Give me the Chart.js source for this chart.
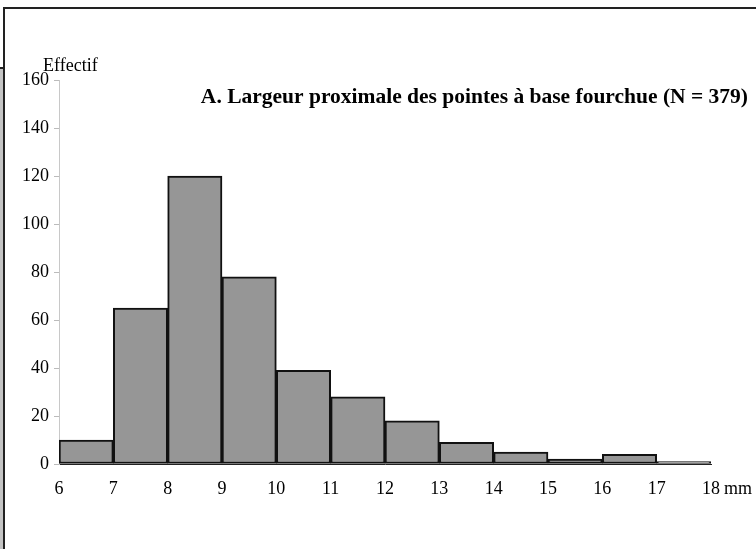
<!DOCTYPE html>
<html>
<head>
<meta charset="utf-8">
<script src="https://cdn.jsdelivr.net/npm/chart.js@4.4.1/dist/chart.umd.min.js"></script>
<style>
html,body{margin:0;padding:0;background:#fff;}
#wrap{position:relative;width:756px;height:549px;}
</style>
</head>
<body>
<div id="wrap"><canvas id="c" width="756" height="549"></canvas></div>
<script>
const binStarts = [6, 7, 8, 9, 10, 11, 12, 13, 14, 15, 16, 17];
const counts = [10, 65, 120, 78, 39, 28, 18, 9, 5, 2, 4, 1];
const xTicks = [6, 7, 8, 9, 10, 11, 12, 13, 14, 15, 16, 17, 18];
const yTicks = [0, 20, 40, 60, 80, 100, 120, 140, 160];
const titleText = 'A. Largeur proximale des pointes à base fourchue (N = 379)';
const yLabel = 'Effectif';
const xUnit = 'mm';

const SERIF = '"Liberation Serif", "Times New Roman", serif';

const framePlugin = {
  id: 'frame',
  beforeDraw(chart) {
    const ctx = chart.ctx;
    ctx.save();
    ctx.fillStyle = '#c4c4c4';
    ctx.fillRect(0, 68, 3, 549 - 68);
    ctx.strokeStyle = '#222';
    ctx.lineWidth = 2;
    ctx.beginPath();
    ctx.moveTo(0, 68); ctx.lineTo(4, 68);
    ctx.moveTo(4, 549); ctx.lineTo(4, 8); ctx.lineTo(756, 8);
    ctx.stroke();
    ctx.restore();
  },
  afterDraw(chart) {
    const ctx = chart.ctx;
    const xs = chart.scales.x;
    ctx.save();
    ctx.fillStyle = '#000';
    ctx.font = '18px ' + SERIF;
    ctx.textAlign = 'left';
    ctx.textBaseline = 'alphabetic';
    ctx.fillText(yLabel, 43, 71);
    ctx.fillText(xUnit, xs.getPixelForValue(18) + 13, 494);
    ctx.font = 'bold 21.5px ' + SERIF;
    ctx.textAlign = 'right';
    ctx.fillText(titleText, 748, 103);
    ctx.restore();
  }
};

new Chart(document.getElementById('c'), {
  type: 'bar',
  data: {
    datasets: [{
      data: binStarts.map((s, i) => ({ x: s + 0.5, y: counts[i] })),
      backgroundColor: '#969696',
      borderColor: '#111',
      borderWidth: 2,
      borderSkipped: false,
      barPercentage: 1,
      categoryPercentage: 1
    }]
  },
  options: {
    responsive: false,
    animation: false,
    devicePixelRatio: 1,
    layout: { padding: { left: 0, top: 80, right: 45, bottom: 0 } },
    plugins: { legend: { display: false }, tooltip: { enabled: false }, title: { display: false } },
    scales: {
      x: {
        type: 'linear',
        offset: false,
        min: 6, max: 18,
        afterBuildTicks: (s) => { s.ticks = xTicks.map(v => ({ value: v })); },
        afterFit: (s) => { s.height = 85; },
        grid: { display: false, drawTicks: false },
        border: { display: true, color: '#222', width: 1 },
        ticks: { color: '#000', font: { family: SERIF, size: 18 }, padding: 14, maxRotation: 0, autoSkip: false }
      },
      y: {
        min: 0, max: 160,
        afterBuildTicks: (s) => { s.ticks = yTicks.map(v => ({ value: v })); },
        afterFit: (s) => { s.width = 59; },
        grid: { drawOnChartArea: false, drawTicks: true, tickLength: 5, color: '#bbb' },
        border: { display: true, color: '#c8c8c8', width: 1 },
        ticks: { color: '#000', font: { family: SERIF, size: 18 }, padding: 5 }
      }
    }
  },
  plugins: [framePlugin]
});
</script>
</body>
</html>
